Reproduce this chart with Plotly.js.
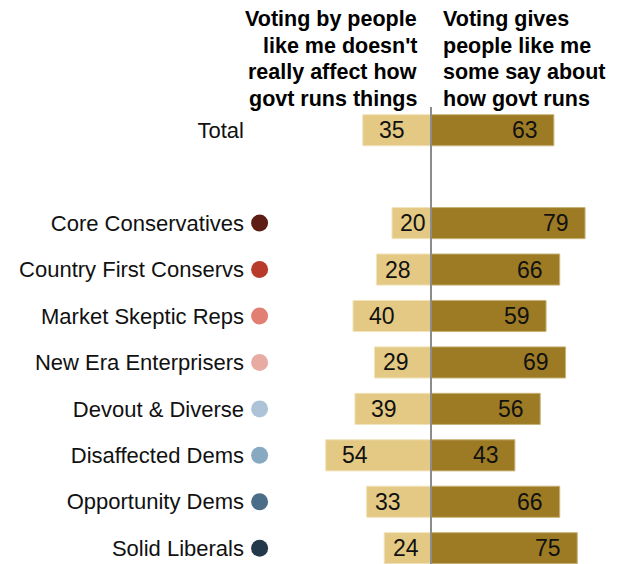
<!DOCTYPE html>
<html><head><meta charset="utf-8">
<script src="https://cdn.plot.ly/plotly-3.0.1.min.js"></script>
<style>html,body{margin:0;padding:0;background:#fff}</style>
</head><body><div id="chart" style="width:619px;height:564px"></div>
<script>
const categories = ["Total", " ", "Core Conservatives", "Country First Conservs", "Market Skeptic Reps",
  "New Era Enterprisers", "Devout & Diverse", "Disaffected Dems", "Opportunity Dems", "Solid Liberals"];
const doesntAffect = [35, null, 20, 28, 40, 29, 39, 54, 33, 24];
const givesSay = [63, null, 79, 66, 59, 69, 56, 43, 66, 75];
const groupNames = categories.slice(2);
const dotColors = ["#5e1d14", "#b83a2b", "#e07f72", "#e8aba3", "#adc4d8", "#88a9c2", "#4b6d88", "#23384a"];
const headerLeft = ["Voting by people", "like me doesn't", "really affect how", "govt runs things"];
const headerRight = ["Voting gives", "people like me", "some say about", "how govt runs"];

const labelFont = "Liberation Sans, Arial, sans-serif";
const traces = [
  {type: "bar", orientation: "h", y: categories, x: doesntAffect.map(v => v == null ? null : -v),
   marker: {color: "#e3c983", line: {color: "#f1e3bb", width: 1}}, width: 0.67, hoverinfo: "none"},
  {type: "bar", orientation: "h", y: categories, x: givesSay,
   marker: {color: "#9c7b24", line: {color: "#c9b277", width: 1}}, width: 0.67, hoverinfo: "none"},
  {type: "scatter", mode: "markers", y: groupNames, x: groupNames.map(() => -87.9),
   marker: {color: dotColors, size: 17, line: {width: 0}}, hoverinfo: "none", cliponaxis: false}
];

const annotations = [];
categories.forEach((c, i) => {
  if (doesntAffect[i] != null) {
    const v = doesntAffect[i];
    annotations.push({x: -(v - (v >= 35 ? 15 : 11)), y: c, xref: "x", yref: "y", text: String(v),
      showarrow: false, xanchor: "center", font: {family: labelFont, size: 23, color: "#111"}});
  }
  if (givesSay[i] != null) {
    const v = givesSay[i];
    annotations.push({x: v - 15, y: c, xref: "x", yref: "y", text: String(v),
      showarrow: false, xanchor: "center", font: {family: labelFont, size: 23, color: "#111"}});
  }
});
const headFont = {family: labelFont, size: 21.5, color: "#000"};
headerLeft.forEach((t, k) => annotations.push({x: -6, y: 1, xref: "x", yref: "paper", yanchor: "bottom",
  xanchor: "right", align: "right", yshift: -6 + (3 - k) * 26.7, text: "<b>" + t + "</b>",
  showarrow: false, font: headFont}));
headerRight.forEach((t, k) => annotations.push({x: 5, y: 1, xref: "x", yref: "paper", yanchor: "bottom",
  xanchor: "left", align: "left", yshift: -6 + (3 - k) * 26.7, text: "<b>" + t + "</b>",
  showarrow: false, font: headFont}));

const layout = {
  width: 619, height: 564,
  margin: {l: 250, r: 9, t: 107, b: 0},
  paper_bgcolor: "#fff", plot_bgcolor: "#fff",
  barmode: "relative", showlegend: false,
  xaxis: {range: [-92.82, 91.79], showgrid: false, zeroline: false, showticklabels: false, ticks: ""},
  yaxis: {type: "category", categoryarray: categories, categoryorder: "array", range: [9.34, -0.5],
    showgrid: false, zeroline: false, ticks: "", ticklabelstandoff: 5,
    tickfont: {family: labelFont, size: 22, color: "#111"}},
  shapes: [{type: "line", xref: "x", yref: "paper", x0: 0, x1: 0, y0: 0, y1: 1,
    line: {color: "#8c8c8c", width: 2}, layer: "above"}],
  annotations: annotations
};
Plotly.newPlot("chart", traces, layout, {staticPlot: true});
</script></body></html>
